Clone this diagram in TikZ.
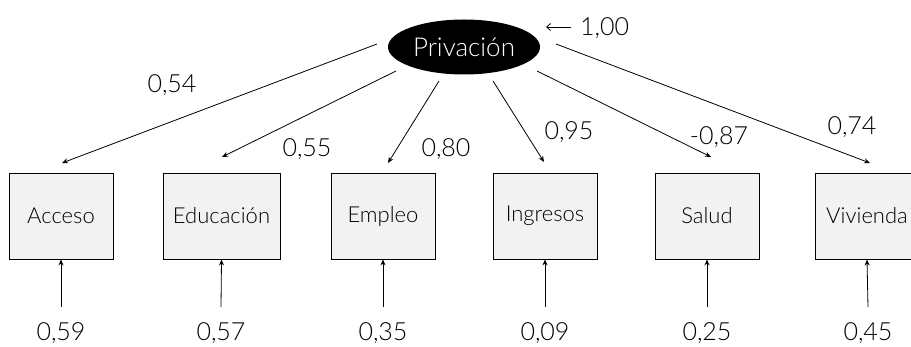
\documentclass[tikz,border=0pt]{standalone}
\usepackage{fontspec}
\setmainfont{Lato Light}
\usetikzlibrary{arrows.meta,shapes.geometric}
\definecolor{boxgray}{HTML}{F2F2F2}
\begin{document}
\begin{tikzpicture}[x=1pt,y=-1pt,
  box/.style={draw, line width=0.9pt, fill=boxgray, minimum width=104pt,
    minimum height=86pt, inner sep=0pt, font=\fontsize{22}{25}\selectfont},
  lbl/.style={font=\fontsize{25}{28}\selectfont, inner sep=0pt, anchor=base},
  arr/.style={line width=0.8pt, -{Stealth[length=6pt,width=5pt]}}]
\useasboundingbox (0,0) rectangle (911,347);

% latent factor and its variance
\node[ellipse, fill=black, minimum width=152pt, minimum height=55pt,
  inner sep=0pt, text=white, font=\fontsize{26}{30}\selectfont] (P) at (464,47) {Privación};
\node[lbl, anchor=base west] (var) at (580,36) {1,00};
\coordinate (va) at (571,27);
\coordinate (vb) at (546,27);
\draw[line width=0.8pt, -{Straight Barb[length=4pt,width=7pt]}] (va) -- (vb);

% indicators
\node[box] (A)  at (61,216)  {Acceso};
\node[box, minimum width=117pt] (E) at (221.5,216) {Educación};
\node[box] (Em) at (383,216) {Empleo};
\node[box] (I)  at (545,216) {Ingresos};
\node[box] (S)  at (707,216) {Salud};
\node[box] (V)  at (867,216) {Vivienda};

% loadings: start and end points of the factor paths
\coordinate (sA)  at (377,44);  \coordinate (tA)  at (62,163);
\coordinate (sE)  at (396,71);  \coordinate (tE)  at (222,157);
\coordinate (sEm) at (439,81);  \coordinate (tEm) at (388,163);
\coordinate (sI)  at (493,81);  \coordinate (tI)  at (544,162);
\coordinate (sS)  at (537,71);  \coordinate (tS)  at (711,157);
\coordinate (sV)  at (556,44);  \coordinate (tV)  at (870,163);
\foreach \k in {A,E,Em,I,S,V} \draw[arr] (s\k) -- (t\k);

\node[lbl] (lA)  at (172,93)  {0,54};
\node[lbl] (lE)  at (307,157) {0,55};
\node[lbl] (lEm) at (446,157) {0,80};
\node[lbl] (lI)  at (569,140) {0,95};
\node[lbl] (lS)  at (719,145) {-0,87};
\node[lbl] (lV)  at (852,135) {0,74};

% error terms
\foreach \k/\x/\v in {A/61/{0,59}, E/221/{0,57}, Em/383/{0,35}, I/545/{0,09}, S/707/{0,25}, V/868/{0,45}}{
  \coordinate (e\k) at (\x,307);
  \draw[arr] (e\k) -- (\k.south);
  \node[lbl] (r\k) at (\x,341) {\v};
}
\end{tikzpicture}
\end{document}
